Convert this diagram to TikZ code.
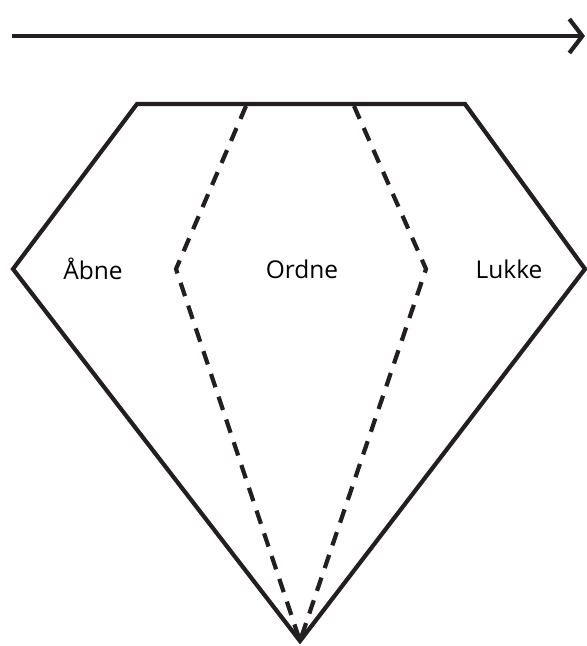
\documentclass[tikz,border=0pt]{standalone}
\usepackage{fontspec}
\setmainfont{Open Sans}
\usetikzlibrary{arrows.meta}
\definecolor{strokeblack}{HTML}{231F20}

\begin{document}
\begin{tikzpicture}[
      x=1pt, y=-1pt,
      every node/.style={font=\fontsize{24.5}{28}\selectfont, text=black},
      outline/.style={draw=strokeblack, line width=4.2pt, line join=miter},
      phaseline/.style={draw=strokeblack, line width=4.2pt, dash pattern=on 14pt off 10pt},
      timeline/.style={draw=strokeblack, line width=4.2pt, -{Straight Barb[length=13pt, width=34pt]}}
    ]
      \useasboundingbox (0,0) rectangle (587,646);
      % time axis
      \coordinate (tstart) at (12,36);
      \coordinate (tend) at (585,36);
      \draw[timeline] (tstart) -- (tend);
      % outer shape
      \coordinate (topl) at (137,104);
      \coordinate (topr) at (465,104);
      \coordinate (midr) at (585,269);
      \coordinate (midl) at (13,269);
      \coordinate (tip) at (300,641);
      \draw[outline] (topl) -- (topr) -- (midr) -- (tip) -- (midl) -- cycle;
      % inner phases
      \coordinate (dtl) at (246,106);
      \coordinate (dml) at (176,269);
      \coordinate (dtr) at (354,106);
      \coordinate (dmr) at (426,269);
      \draw[phaseline] (dtl) -- (dml) -- (tip);
      \draw[phaseline] (dtr) -- (dmr) -- (tip);
      % labels
      \node (aabne) at (93,269) {Åbne};
      \node (ordne) at (302,269) {Ordne};
      \node (lukke) at (509,269) {Lukke};
    \end{tikzpicture}
\end{document}
